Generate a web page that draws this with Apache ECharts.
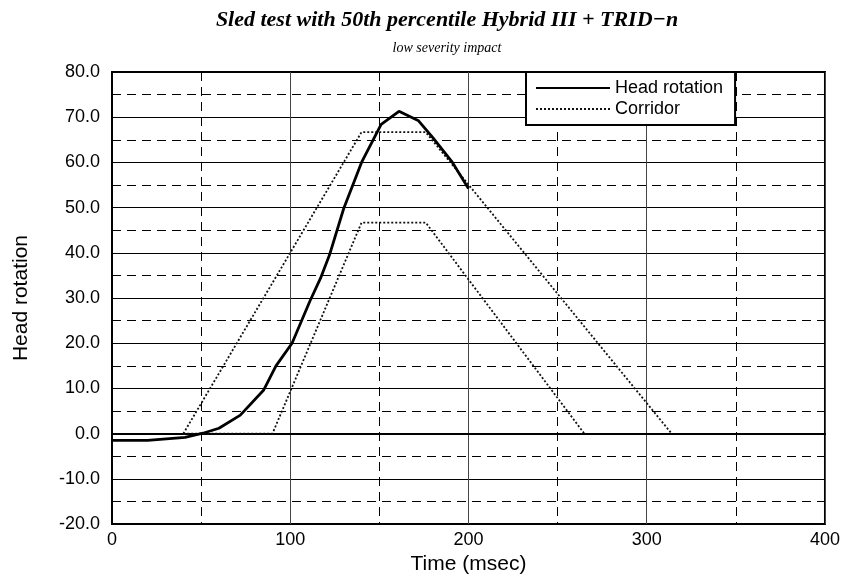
<!DOCTYPE html>
<html>
<head>
<meta charset="utf-8">
<script src="https://cdn.jsdelivr.net/npm/echarts@6/dist/echarts.min.js"></script>
<style>html,body{margin:0;padding:0;background:#fff}#c{width:843px;height:580px}</style>
</head>
<body>
<div id="c"></div>
<script>
// ---- data ----
var headTime = [0, 20, 41, 51, 60, 72, 85, 92, 101, 111, 117, 122, 130, 140, 151, 161, 172, 180, 191, 200];
var headRot  = [-1.5, -1.5, -0.8, 0.1, 1.2, 4.1, 9.6, 15, 20, 29.3, 34.4, 39.5, 49.8, 60, 68.4, 71.3, 69.2, 65.5, 60, 54.2];
var upperTime = [40, 140, 176, 314];
var upperVal  = [0, 66.7, 66.7, 0];
var lowerTime = [40, 90, 140, 176, 265];
var lowerVal  = [0, 0, 46.7, 46.7, 0];
var titleText = 'Sled test with 50th percentile Hybrid III + TRID\u2212n';
var subtitleText = 'low severity impact';
var xName = 'Time (msec)';
var yName = 'Head rotation';

function pairs(t, v) { return t.map(function (x, i) { return [x, v[i]]; }); }

var chart = echarts.init(document.getElementById('c'), null, {renderer: 'canvas'});
var sans = '"Liberation Sans", Arial, Helvetica, sans-serif';
var serif = '"Liberation Serif", "Times New Roman", serif';
chart.setOption({
  animation: false,
  backgroundColor: '#fff',
  title: [
    {text: titleText, left: 442, top: 4, textAlign: 'center',
     textStyle: {fontFamily: serif, fontStyle: 'italic', fontWeight: 'bold', fontSize: 22, color: '#000'}},
    {text: subtitleText, left: 442, top: 36, textAlign: 'center',
     textStyle: {fontFamily: serif, fontStyle: 'italic', fontWeight: 'normal', fontSize: 14, color: '#000'}}
  ],
  legend: {
    orient: 'vertical', left: 526, top: 72,
    padding: [7, 12, 7, 9], itemGap: 3, itemWidth: 74, itemHeight: 14,
    backgroundColor: '#fff', borderColor: '#000', borderWidth: 2, borderRadius: 0,
    data: ['Head rotation', 'Corridor'],
    itemStyle: {color: 'transparent', borderColor: 'transparent', borderWidth: 0},
    textStyle: {fontFamily: sans, fontSize: 18, color: '#000'}
  },
  grid: {left: 112, right: 17, top: 72, bottom: 52, show: true, borderColor: '#000', borderWidth: 2, backgroundColor: '#fff'},
  xAxis: {
    type: 'value', min: 0, max: 400, interval: 100,
    name: xName, nameLocation: 'middle', nameGap: 23,
    nameTextStyle: {fontFamily: sans, fontSize: 21, color: '#000'},
    axisLine: {show: true, lineStyle: {color: '#000', width: 2}},
    axisTick: {show: false},
    axisLabel: {fontFamily: sans, fontSize: 18, color: '#000', margin: 7},
    splitLine: {show: true, lineStyle: {color: '#444', width: 1}},
    minorTick: {show: false, splitNumber: 2},
    minorSplitLine: {show: true, lineStyle: {color: '#000', width: 1, type: [9, 6]}}
  },
  yAxis: {
    type: 'value', min: -20, max: 80, interval: 10,
    name: yName, nameLocation: 'middle', nameGap: 80,
    nameTextStyle: {fontFamily: sans, fontSize: 21, color: '#000'},
    axisLine: {show: true, lineStyle: {color: '#000', width: 2}},
    axisTick: {show: false},
    axisLabel: {fontFamily: sans, fontSize: 18, color: '#000', margin: 12,
      formatter: function (v) { return v.toFixed(1); }},
    splitLine: {show: true, lineStyle: {color: '#000', width: 1}},
    minorTick: {show: false, splitNumber: 2},
    minorSplitLine: {show: true, lineStyle: {color: '#000', width: 1, type: [9, 6]}}
  },
  series: [
    {name: 'Corridor', type: 'line', data: pairs(upperTime, upperVal), symbol: 'none', z: 3,
     lineStyle: {color: '#111', width: 1.8, type: [2, 2]}},
    {name: 'Corridor', type: 'line', data: pairs(lowerTime, lowerVal), symbol: 'none', z: 3,
     lineStyle: {color: '#111', width: 1.8, type: [2, 2]}},
    {name: 'Head rotation', type: 'line', data: pairs(headTime, headRot), symbol: 'none', z: 4,
     lineStyle: {color: '#000', width: 2.8}}
  ]
});
</script>
</body>
</html>
